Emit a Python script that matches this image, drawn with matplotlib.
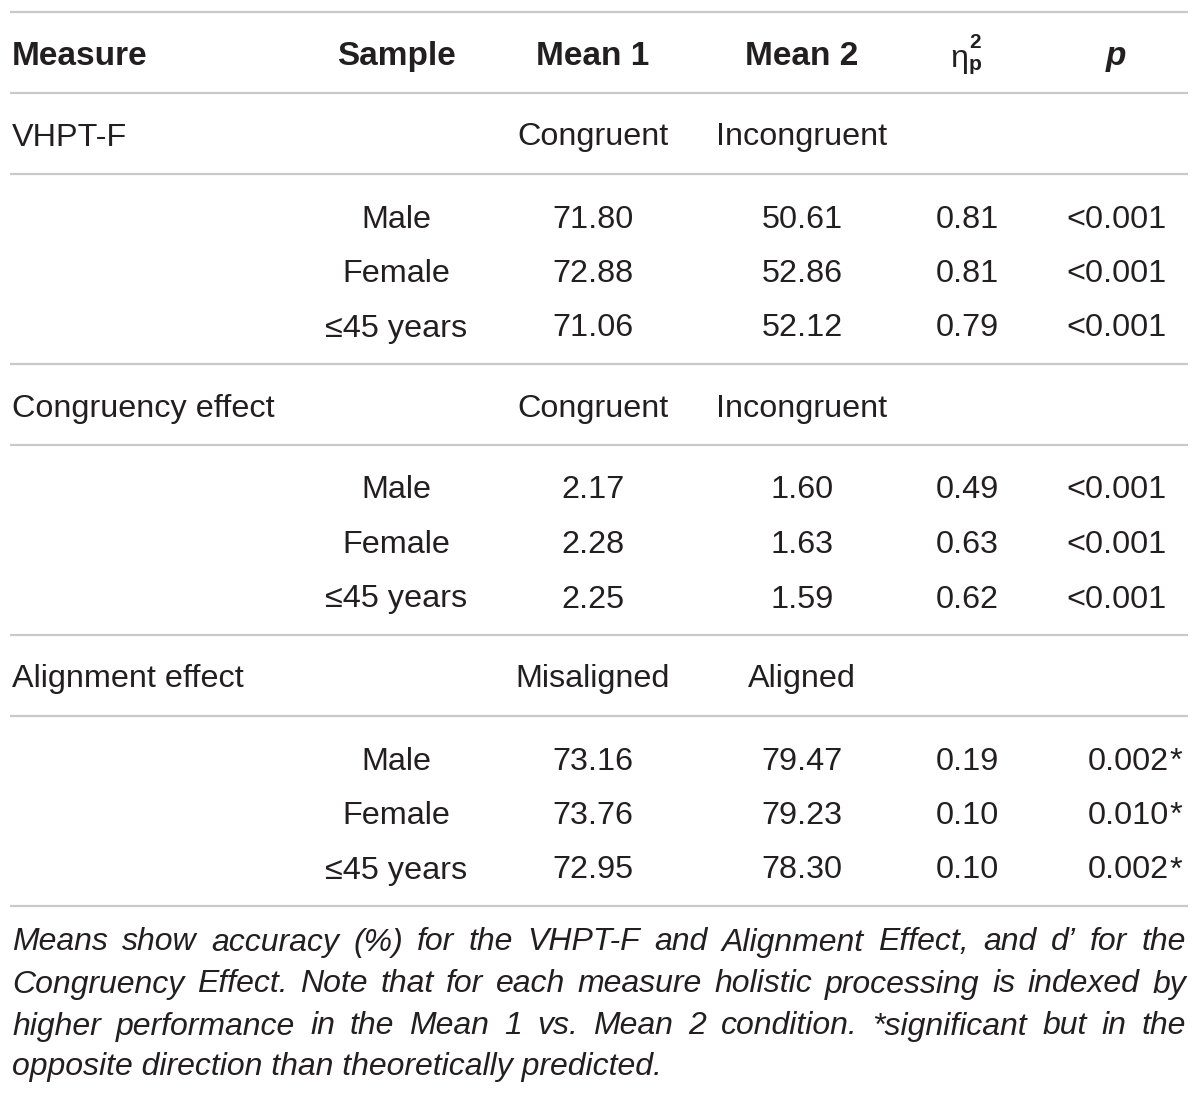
import matplotlib
matplotlib.use("Agg")
import matplotlib.pyplot as plt

# ---------------------------------------------------------------------------
# Table content
# ---------------------------------------------------------------------------
headers = ["Measure", "Sample", "Mean 1", "Mean 2", "", "p"]
measures = ["VHPT-F", "Congruency effect", "Alignment effect"]
mean1_labels = ["Congruent", "Congruent", "Misaligned"]
mean2_labels = ["Incongruent", "Incongruent", "Aligned"]
samples = ["Male", "Female", "\u226445 years"]
mean1 = [["71.80", "72.88", "71.06"],
         ["2.17", "2.28", "2.25"],
         ["73.16", "73.76", "72.95"]]
mean2 = [["50.61", "52.86", "52.12"],
         ["1.60", "1.63", "1.59"],
         ["79.47", "79.23", "78.30"]]
eta = [["0.81", "0.81", "0.79"],
       ["0.49", "0.63", "0.62"],
       ["0.19", "0.10", "0.10"]]
pvals = [["<0.001", "<0.001", "<0.001"],
         ["<0.001", "<0.001", "<0.001"],
         ["0.002*", "0.010*", "0.002*"]]
note_lines = [
    "Means show accuracy (%) for the VHPT-F and Alignment Effect, and d\u2019 for the",
    "Congruency Effect. Note that for each measure holistic processing is indexed by",
    "higher performance in the Mean 1 vs. Mean 2 condition. *significant but in the",
    "opposite direction than theoretically predicted.",
]

FONT = "Liberation Sans"
TXT = "#231f20"
RULE = "#c9c9c9"
FS = 23.3
HFS = 24

W, H = 1200, 1096
fig = plt.figure(figsize=(W / 100, H / 100), dpi=100)
ax = fig.add_axes([0, 0, 1, 1])
ax.set_xlim(0, W)
ax.set_ylim(H, 0)
ax.axis("off")

col_x = {"sample": 396, "m1": 593, "m2": 802, "eta": 967, "p_right": 1167}


def rule(y):
    ax.plot([10, 1188], [y, y], color=RULE, lw=1.6, solid_capstyle="butt")


def txt(x, y, s, ha="center", weight="normal", style="normal", size=FS):
    return ax.text(x, y, s, ha=ha, va="center_baseline", fontsize=size,
                   family=FONT, color=TXT, weight=weight, style=style)


# header
rule(12)
hy = 53
txt(12, hy, headers[0], ha="left", weight="bold", size=HFS)
txt(col_x["sample"], hy, headers[1], weight="bold", size=HFS)
txt(col_x["m1"], hy, headers[2], weight="bold", size=HFS)
txt(col_x["m2"], hy, headers[3], weight="bold", size=HFS)
txt(col_x["eta"] - 8, hy + 2, "\u03b7", size=FS)
txt(col_x["eta"] + 8, hy - 12, "2", weight="bold", size=15)
txt(col_x["eta"] + 8, hy + 10, "p", weight="bold", size=15)
txt(1116, hy, headers[5], weight="bold", style="italic", size=HFS)
rule(93)

# body
y0 = 134
block_h = 271
for b in range(3):
    by = y0 + b * block_h
    txt(12, by, measures[b], ha="left")
    txt(col_x["m1"], by, mean1_labels[b])
    txt(col_x["m2"], by, mean2_labels[b])
    rule(by + 40)
    for r in range(3):
        ry = by + 82 + r * 54.5
        txt(col_x["sample"], ry, samples[r])
        txt(col_x["m1"], ry, mean1[b][r])
        txt(col_x["m2"], ry, mean2[b][r])
        txt(col_x["eta"], ry, eta[b][r])
        pv = pvals[b][r]
        if pv.endswith("*"):
            txt(col_x["p_right"] + 2, ry, pv[:-1], ha="right")
            txt(col_x["p_right"] + 2, ry, "*", ha="left")
        else:
            txt(col_x["p_right"], ry, pv, ha="right")
    rule(by + 230)

# note, justified between left and right margins
renderer = fig.canvas.get_renderer()
note_y = [939, 981, 1023, 1063]
left, right = 12, 1186
NFS = 23
for i, line in enumerate(note_lines):
    y = note_y[i]
    if i == len(note_lines) - 1:
        txt(left, y, line, ha="left", style="italic", size=NFS)
        continue
    words = line.split(" ")
    arts = [txt(0, y, w_, ha="left", style="italic", size=NFS) for w_ in words]
    widths = [a.get_window_extent(renderer).width for a in arts]
    gap = (right - left - sum(widths)) / (len(words) - 1)
    x = left
    for a, wd in zip(arts, widths):
        a.set_x(x)
        x += wd + gap

fig.savefig("out.png", dpi=100, facecolor="white")
